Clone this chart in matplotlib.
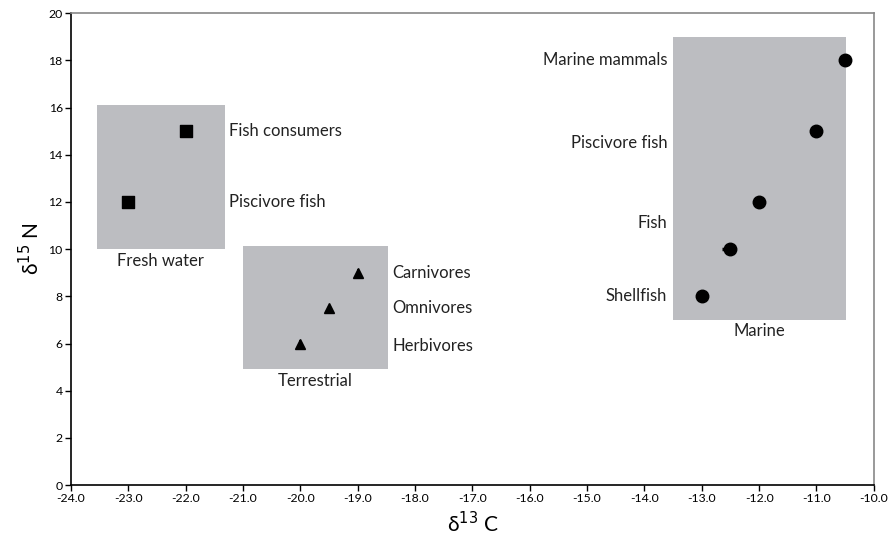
import matplotlib
matplotlib.use("Agg")
import matplotlib.pyplot as plt
from matplotlib.patches import Rectangle

plt.rcParams['font.family'] = ['Lato', 'DejaVu Sans']

# Ecosystem ranges (x0, x1, y0, y1) and their names
group_names = ["Fresh water", "Terrestrial", "Marine"]
group_x0 = [-23.55, -21.0, -13.5]
group_x1 = [-21.32, -18.47, -10.49]
group_y0 = [10.0, 4.9, 7.0]
group_y1 = [16.1, 10.15, 19.0]

# Fresh water organisms
fresh_labels = ["Piscivore fish", "Fish consumers"]
fresh_c13 = [-23.0, -22.0]
fresh_n15 = [12.0, 15.0]

# Terrestrial organisms
terr_labels = ["Herbivores", "Omnivores", "Carnivores"]
terr_c13 = [-20.0, -19.5, -19.0]
terr_n15 = [6.0, 7.5, 9.0]
terr_n15_err = [0.15, 0.15, 0.15]

# Marine organisms
marine_labels = ["Shellfish", "Fish", "Piscivore fish", "Marine mammals"]
marine_c13 = [-13.0, -12.5, -12.0, -11.0, -10.5]
marine_n15 = [8.0, 10.0, 12.0, 15.0, 18.0]
marine_c13_err = [0.0, 0.15, 0.0, 0.0, 0.0]
marine_label_n15 = [8.0, 11.1, 14.5, 18.0]

x_ticks = [-24.0 + i for i in range(15)]
y_ticks = list(range(0, 21, 2))

fig = plt.figure(figsize=(8.88, 5.5), dpi=100)
ax = fig.add_axes([0.080, 0.118, 0.904, 0.858])

box_color = "#bcbdc1"
text_color = "#222222"
fs = 12
for name, x0, x1, y0, y1 in zip(group_names, group_x0, group_x1, group_y0, group_y1):
    ax.add_patch(Rectangle((x0, y0), x1 - x0, y1 - y0, facecolor=box_color,
                           edgecolor="none", zorder=1))
    ax.text((x0 + x1) / 2, y0 - 0.15, name, ha="center", va="top",
            fontsize=fs, color=text_color)

ax.scatter(fresh_c13, fresh_n15, marker="s", s=80, color="black", zorder=3)
ax.errorbar(terr_c13, terr_n15, yerr=[[0] * 3, terr_n15_err], fmt="^",
            ms=7, color="black", elinewidth=1.2, capsize=0, zorder=3)
ax.errorbar(marine_c13, marine_n15, xerr=[marine_c13_err, [0] * 5], fmt="o",
            ms=9, color="black", elinewidth=2.5, capsize=0, zorder=3)

for lab, y in zip(fresh_labels, fresh_n15):
    ax.text(-21.25, y, lab, ha="left", va="center", fontsize=fs, color=text_color)
for lab, y in zip(terr_labels, terr_n15):
    ax.text(-18.4, y - (0.12 if lab == "Herbivores" else 0), lab, ha="left",
            va="center", fontsize=fs, color=text_color)
for lab, y in zip(marine_labels, marine_label_n15):
    ax.text(-13.6, y, lab, ha="right", va="center", fontsize=fs, color=text_color)

ax.set_xlim(-24, -10)
ax.set_ylim(0, 20)
ax.set_xticks(x_ticks)
ax.set_xticklabels([f"{v:.1f}" for v in x_ticks])
ax.set_yticks(y_ticks)
ax.tick_params(axis="both", direction="out", length=4, width=1, labelsize=8.8,
               colors="black", pad=2)

for side in ["left", "bottom"]:
    ax.spines[side].set_color("black")
    ax.spines[side].set_linewidth(1.2)
for side in ["top", "right"]:
    ax.spines[side].set_color("#888888")
    ax.spines[side].set_linewidth(1.2)

ax.set_xlabel("δ$^{13}$ C", fontsize=15, labelpad=5)
ax.set_ylabel("δ$^{15}$ N", fontsize=15, labelpad=4)

fig.savefig("out.png", dpi=100)
